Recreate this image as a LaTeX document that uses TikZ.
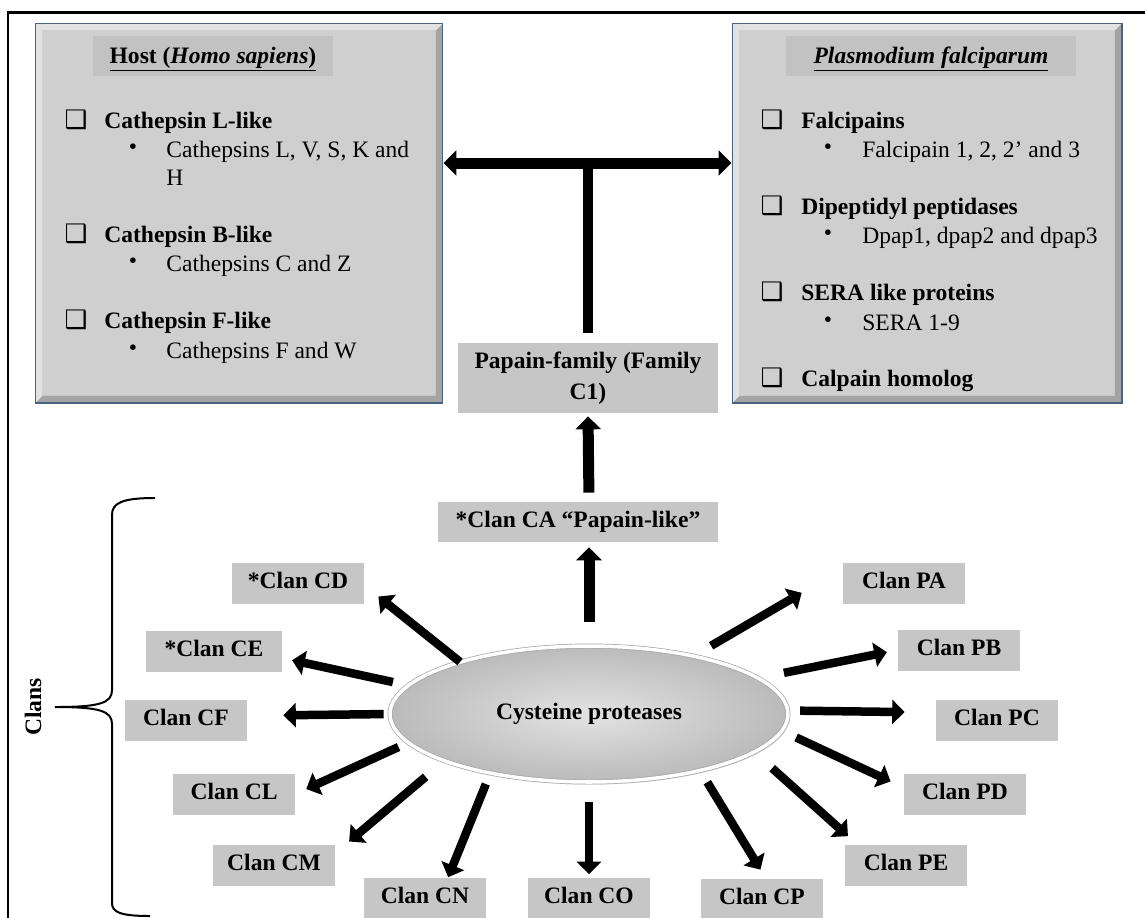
\documentclass[tikz,border=0pt]{standalone}
\usepackage{fontspec}
\setmainfont{Liberation Serif}
\newfontfamily\dingfont{DejaVu Sans}
\usepackage{tikz}
\usetikzlibrary{shapes,arrows.meta,shadows}

\definecolor{panelgray}{HTML}{CFCFCF}
\definecolor{panellight}{HTML}{E2E2E2}
\definecolor{paneldark}{HTML}{A4A4A4}
\definecolor{panelrim}{HTML}{4A6480}
\definecolor{titlegray}{HTML}{C2C2C2}
\definecolor{boxgray}{HTML}{C6C6C6}

\newcommand{\diagfont}{\fontsize{13.4}{16}\selectfont}
\newcommand{\famfont}{\fontsize{13.4}{17.6}\selectfont}

\begin{document}
\begin{tikzpicture}[x=0.02cm,y=-0.02cm]
    \tikzstyle{panel}=[rectangle,fill=panelgray,draw=panelrim,line width=0.6pt,path picture={
        \fill[paneldark] (path picture bounding box.north east) -- (path picture bounding box.south east)
            -- (path picture bounding box.south west) -- ([shift={(0.14cm,0.14cm)}]path picture bounding box.south west)
            -- ([shift={(-0.14cm,0.14cm)}]path picture bounding box.south east) -- ([shift={(-0.14cm,-0.14cm)}]path picture bounding box.north east) -- cycle;
        \fill[panellight] (path picture bounding box.north west) -- (path picture bounding box.north east)
            -- ([shift={(-0.14cm,-0.14cm)}]path picture bounding box.north east) -- ([shift={(0.14cm,-0.14cm)}]path picture bounding box.north west)
            -- ([shift={(0.14cm,0.14cm)}]path picture bounding box.south west) -- (path picture bounding box.south west) -- cycle;}]
    \tikzstyle{titlebar}=[rectangle,fill=titlegray,minimum height=0.8cm,text height=0.9em,text depth=0.1em,font=\diagfont\bfseries]
    \tikzstyle{tick}=[inner sep=0pt,font=\dingfont\fontsize{14.5}{14.5}\selectfont]
    \tikzstyle{dot}=[inner sep=0pt,font=\diagfont]
    \tikzstyle{item}=[anchor=base west,inner sep=0pt,font=\diagfont\bfseries]
    \tikzstyle{sub}=[anchor=base west,inner sep=0pt,font=\diagfont]

    \tikzstyle{clan}=[rectangle,fill=boxgray,minimum width=2.44cm,minimum height=0.82cm,
                      text height=0.66em,text depth=0pt,font=\diagfont\bfseries]
    \tikzstyle{hub}=[ellipse,draw=gray!70,line width=0.4pt,double=white,double distance=2pt,
                     inner color=black!11,outer color=black!27,minimum width=7.96cm,minimum height=2.72cm,
                     drop shadow={opacity=0.3,shadow xshift=0.04cm,shadow yshift=-0.05cm},font=\diagfont\bfseries]

    \tikzstyle{bigarrow}=[line width=0.22cm,-{Triangle[length=0.26cm,width=0.5cm]}]
    \tikzstyle{spoke}=[line width=0.17cm,-{Triangle[length=0.25cm,width=0.48cm]}]

    \useasboundingbox (0,0) rectangle (1145,917);
    \draw[line width=0.06cm] (8,12) rectangle (1300,1100);

    % the two species panels
    \node[panel,minimum width=8.16cm,minimum height=7.6cm] (host) at (239,213) {};
    \node[panel,minimum width=7.8cm,minimum height=7.6cm] (plas) at (927,213) {};
    \node[titlebar,minimum width=4.8cm] (hosttitle) at (213,56) {\underline{Host (\textit{Homo sapiens})}};
    \node[titlebar,minimum width=5.82cm] (plastitle) at (931,56) {\textit{\underline{Plasmodium falciparum}}};

    \node[tick] (hk1) at (76,120) {❑};
    \node[item] (hL) at (104,128) {Cathepsin L-like};
    \node[dot] (hb1) at (133,149) {•};
    \node[sub] (hLs) at (166,157) {Cathepsins L, V, S, K and};
    \node[sub] (hLs2) at (166,185) {H};
    \node[tick] (hk2) at (76,234) {❑};
    \node[item] (hB) at (104,242) {Cathepsin B-like};
    \node[dot] (hb2) at (133,263) {•};
    \node[sub] (hBs) at (166,271) {Cathepsins C and Z};
    \node[tick] (hk3) at (76,320) {❑};
    \node[item] (hF) at (104,328) {Cathepsin F-like};
    \node[dot] (hb3) at (133,350) {•};
    \node[sub] (hFs) at (166,358) {Cathepsins F and W};

    \node[tick] (pk1) at (772,120) {❑};
    \node[item] (pF) at (801,128) {Falcipains};
    \node[dot] (pb1) at (828,149) {•};
    \node[sub] (pFs) at (862,157) {Falcipain 1, 2, 2’ and 3};
    \node[tick] (pk2) at (772,206) {❑};
    \node[item] (pD) at (801,214) {Dipeptidyl peptidases};
    \node[dot] (pb2) at (828,235) {•};
    \node[sub] (pDs) at (862,243) {Dpap1, dpap2 and dpap3};
    \node[tick] (pk3) at (772,292) {❑};
    \node[item] (pS) at (801,300) {SERA like proteins};
    \node[dot] (pb3) at (828,322) {•};
    \node[sub] (pSs) at (862,330) {SERA 1-9};
    \node[tick] (pk4) at (772,378) {❑};
    \node[item] (pC) at (801,386) {Calpain homolog};

    % family, clan CA and the hub
    \node[rectangle,fill=boxgray,minimum width=5.22cm,minimum height=1.4cm,align=center,font=\famfont\bfseries]
        (papain) at (588,378) {Papain-family (Family\\C1)};
    \node[clan,minimum width=5.6cm,minimum height=0.8cm] (clanCA) at (578,522) {*Clan CA “Papain-like”};
    \node[hub] (cyst) at (589,714) {Cysteine proteases};

    \node[clan,minimum width=2.64cm] (clanCD) at (298,583) {*Clan CD};
    \node[clan,minimum width=2.74cm] (clanCE) at (214,651) {*Clan CE};
    \node[clan] (clanCF) at (186,720) {Clan CF};
    \node[clan] (clanCL) at (234,794) {Clan CL};
    \node[clan] (clanCM) at (274,865) {Clan CM};
    \node[clan] (clanCN) at (425,898) {Clan CN};
    \node[clan] (clanCO) at (589,898) {Clan CO};
    \node[clan] (clanCP) at (762,899) {Clan CP};
    \node[clan] (clanPE) at (906,865) {Clan PE};
    \node[clan] (clanPD) at (965,794) {Clan PD};
    \node[clan] (clanPC) at (997,720) {Clan PC};
    \node[clan] (clanPB) at (959,650) {Clan PB};
    \node[clan] (clanPA) at (904,583) {Clan PA};

    % T joint up to the panels
    \coordinate (tjoin) at (588,163);
    \draw[line width=0.2cm,shorten <=0.2cm] (papain.north) -- (tjoin);
    \draw[line width=0.22cm,{Triangle[length=0.26cm,width=0.5cm]}-{Triangle[length=0.26cm,width=0.5cm]}]
        (tjoin -| host.east) -- (tjoin -| plas.west);

    \draw[bigarrow,shorten <=0.48cm,shorten >=0.1cm] (cyst.north) -- (cyst.north |- clanCA.south);
    \draw[bigarrow,shorten <=0.18cm,shorten >=0.06cm] (cyst.north |- clanCA.north) -- (papain.south);

    % spokes
    \draw[spoke,shorten <=0.4cm,shorten >=0.95cm] (cyst.29) -- (clanPA.167);
    \draw[spoke,shorten <=0.52cm,shorten >=0.22cm] (cyst.12) -- (clanPB.west);
    \draw[spoke,shorten <=0.24cm,shorten >=0.62cm] (cyst.1) -- (clanPC.173);
    \draw[spoke,shorten <=0.31cm,shorten >=0.29cm] (cyst.-5) -- (clanPD.174);
    \draw[spoke,shorten <=0.48cm,shorten >=0.24cm] (cyst.-13) -- (clanPE.157);
    \draw[spoke,shorten <=0.27cm,shorten >=0.2cm] (cyst.-27) -- (clanCP.80);
    \draw[spoke,shorten <=0.4cm,shorten >=0.06cm] (cyst.south) -- (clanCO.north);
    \draw[spoke,shorten <=0.23cm] (cyst.211) -- (clanCN.42);
    \draw[spoke,shorten <=0.49cm,shorten >=0.36cm] (cyst.198) -- (clanCM.11);
    \draw[spoke,shorten <=0.21cm,shorten >=0.24cm] (cyst.189) -- (clanCL.east);
    \draw[spoke,shorten <=0.12cm,shorten >=0.72cm] (cyst.180) -- (clanCF.4);
    \draw[spoke,shorten <=0.31cm,shorten >=0.19cm] (cyst.171) -- (clanCE.-6);
    \draw[spoke,shorten >=0.36cm] (cyst.158) -- (clanCD.-2);

    % brace for the clans
    \draw[line width=0.04cm] (155,498) .. controls (122,498) and (112,503) .. (112,515) -- (112,690)
        .. controls (112,703) and (100,707) .. (55,707) .. controls (100,707) and (112,711) .. (112,724)
        -- (112,903) .. controls (112,912) and (120,916) .. (150,916);
    \node[rotate=90,font=\diagfont\bfseries] (clans) at (33,707) {Clans};
\end{tikzpicture}
\end{document}
